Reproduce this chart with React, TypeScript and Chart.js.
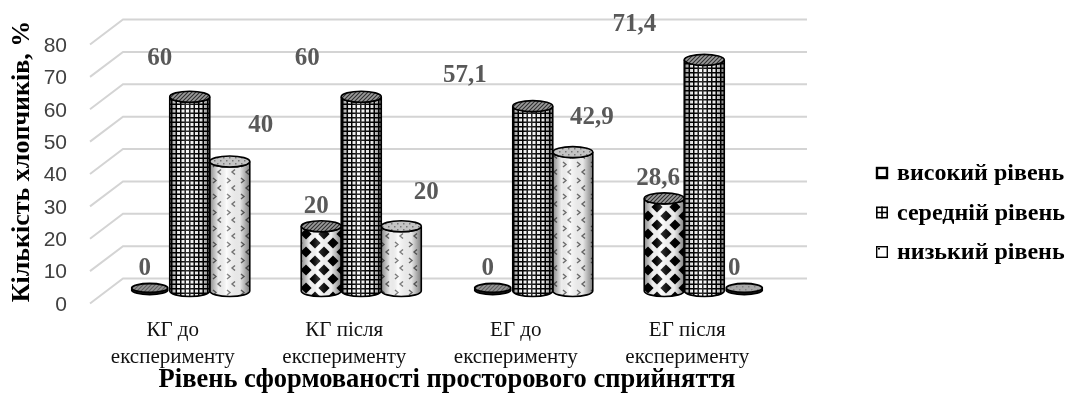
import { useEffect, useRef } from 'react';
import { Chart, registerables } from 'chart.js';

Chart.register(...registerables);

// ---------- data ----------
const categories: string[][] = [
  ['КГ до', 'експерименту'],
  ['КГ після', 'експерименту'],
  ['ЕГ до', 'експерименту'],
  ['ЕГ після', 'експерименту'],
];
const seriesNames = ['високий рівень', 'середній рівень', 'низький рівень'];
const highValues = [0, 20, 0, 28.6];
const midValues = [60, 60, 57.1, 71.4];
const lowValues = [40, 20, 42.9, 0];
const yMin = 0;
const yMax = 80;
const yStep = 10;
const yAxisTitle = 'Кількість хлопчиків, %';
const xAxisTitle = 'Рівень сформованості просторового сприйняття';

// ---------- style (label nudges relative to the bar top, like Excel's 3D layout) ----------
const labelDx = [
  [-5, -5, -5, -6],
  [-30, -54, -68, -70],
  [31, 25, 19, -10],
];
const labelDy = [
  [-22, -20, -22, -20],
  [-38, -38, -31, -35],
  [-36, -34, -35, -22],
];
const SERIF = '"Liberation Serif", "Times New Roman", serif';
const SANS = '"Liberation Sans", Arial, sans-serif';

function makeTile(w: number, h: number, draw: (g: CanvasRenderingContext2D) => void) {
  const c = document.createElement('canvas');
  c.width = w;
  c.height = h;
  const g = c.getContext('2d') as CanvasRenderingContext2D;
  draw(g);
  return c;
}

function diamond(g: CanvasRenderingContext2D, cx: number, cy: number, r: number) {
  g.beginPath();
  g.moveTo(cx, cy - r);
  g.lineTo(cx + r, cy);
  g.lineTo(cx, cy + r);
  g.lineTo(cx - r, cy);
  g.closePath();
  g.fill();
}

function buildPatterns(ctx: CanvasRenderingContext2D) {
  const diamondTile = makeTile(18, 18, (g) => {
    g.fillStyle = '#fff';
    g.fillRect(0, 0, 18, 18);
    g.fillStyle = '#000';
    const r = 5.6;
    diamond(g, 9, 9, r);
    diamond(g, 0, 0, r);
    diamond(g, 18, 0, r);
    diamond(g, 0, 18, r);
    diamond(g, 18, 18, r);
  });
  const gridTile = makeTile(9, 9, (g) => {
    g.fillStyle = '#fff';
    g.fillRect(0, 0, 9, 9);
    g.fillStyle = '#000';
    g.fillRect(0, 0, 9, 1.5);
    g.fillRect(0, 4.5, 9, 1.5);
    g.fillRect(0, 0, 1.5, 9);
    g.fillRect(4.5, 0, 1.5, 9);
  });
  const chevronTile = makeTile(14, 16, (g) => {
    g.fillStyle = '#fbfbfb';
    g.fillRect(0, 0, 14, 16);
    g.strokeStyle = '#6e6e6e';
    g.lineWidth = 1.4;
    g.beginPath();
    g.moveTo(3, 2);
    g.lineTo(6, 4.5);
    g.lineTo(3, 7);
    g.moveTo(11, 9.5);
    g.lineTo(8, 12);
    g.lineTo(11, 14.5);
    g.stroke();
  });
  const hatchTile = makeTile(4, 4, (g) => {
    g.fillStyle = '#9a9a9a';
    g.fillRect(0, 0, 4, 4);
    g.strokeStyle = '#2e2e2e';
    g.lineWidth = 1.1;
    g.beginPath();
    g.moveTo(0, 4);
    g.lineTo(4, 0);
    g.moveTo(-1, 1);
    g.lineTo(1, -1);
    g.moveTo(3, 5);
    g.lineTo(5, 3);
    g.stroke();
  });
  const dotTile = makeTile(6, 6, (g) => {
    g.fillStyle = '#c4c4c4';
    g.fillRect(0, 0, 6, 6);
    g.fillStyle = '#777';
    g.fillRect(1, 1, 1.5, 1.5);
    g.fillRect(4, 4, 1.5, 1.5);
  });
  return {
    body: [
      ctx.createPattern(diamondTile, 'repeat'),
      ctx.createPattern(gridTile, 'repeat'),
      ctx.createPattern(chevronTile, 'repeat'),
    ],
    cap: [
      ctx.createPattern(hatchTile, 'repeat'),
      ctx.createPattern(hatchTile, 'repeat'),
      ctx.createPattern(dotTile, 'repeat'),
    ],
  };
}

function drawCylinder(
  ctx: CanvasRenderingContext2D,
  cx: number,
  top: number,
  bottom: number,
  w: number,
  body: CanvasPattern | null,
  cap: CanvasPattern | null,
) {
  const rx = w / 2;
  const ry = 5.5;
  const l = cx - rx;
  const r = cx + rx;
  ctx.save();
  ctx.beginPath();
  ctx.moveTo(l, top);
  ctx.lineTo(l, bottom);
  ctx.ellipse(cx, bottom, rx, ry, 0, Math.PI, 0, true);
  ctx.lineTo(r, top);
  ctx.ellipse(cx, top, rx, ry, 0, 0, Math.PI, false);
  ctx.closePath();
  ctx.fillStyle = body || '#fff';
  ctx.fill();
  const grad = ctx.createLinearGradient(l, 0, r, 0);
  grad.addColorStop(0, 'rgba(0,0,0,0.45)');
  grad.addColorStop(0.22, 'rgba(0,0,0,0.06)');
  grad.addColorStop(0.42, 'rgba(255,255,255,0.2)');
  grad.addColorStop(0.75, 'rgba(0,0,0,0.08)');
  grad.addColorStop(1, 'rgba(0,0,0,0.5)');
  ctx.fillStyle = grad;
  ctx.fill();
  ctx.strokeStyle = '#000';
  ctx.lineWidth = 1.6;
  ctx.stroke();
  ctx.beginPath();
  ctx.ellipse(cx, top, rx, ry, 0, 0, Math.PI * 2);
  ctx.fillStyle = cap || '#999';
  ctx.fill();
  ctx.stroke();
  ctx.restore();
}

function drawDisk(ctx: CanvasRenderingContext2D, cx: number, base: number, w: number, cap: CanvasPattern | null) {
  const rx = w / 2 - 2;
  const ry = 4.5;
  ctx.save();
  ctx.strokeStyle = '#000';
  ctx.lineWidth = 1.8;
  ctx.beginPath();
  ctx.ellipse(cx, base, rx, ry, 0, 0, Math.PI * 2);
  ctx.fillStyle = '#333';
  ctx.fill();
  ctx.stroke();
  ctx.beginPath();
  ctx.ellipse(cx, base - 2, rx, ry, 0, 0, Math.PI * 2);
  ctx.fillStyle = '#8e8e8e';
  ctx.fill();
  ctx.fillStyle = cap || '#999';
  ctx.globalAlpha = 0.5;
  ctx.fill();
  ctx.globalAlpha = 1;
  ctx.stroke();
  ctx.restore();
}

const fmt = (v: number) => String(v).replace('.', ',');

const cylinderPlugin = {
  id: 'cylinders3d',
  beforeDatasetsDraw(chart: any) {
    const { ctx, chartArea, scales } = chart;
    const ys = scales.y;
    const frontX = chartArea.left - 14;
    const backX = chartArea.left + 19;
    const rightX = chartArea.right + 17;
    ctx.save();
    ctx.strokeStyle = '#d4d4d4';
    ctx.lineWidth = 2;
    for (let v = yMin; v <= yMax; v += yStep) {
      const p = ys.getPixelForValue(v);
      ctx.beginPath();
      ctx.moveTo(frontX, p + 12.5);
      ctx.lineTo(backX, p - 12.5);
      ctx.lineTo(rightX, p - 12.5);
      ctx.stroke();
    }
    ctx.restore();
  },
  afterDatasetsDraw(chart: any) {
    const { ctx } = chart;
    const pats = (chart as any).$pats || ((chart as any).$pats = buildPatterns(ctx));
    const order = [0, 2, 1];
    const n = chart.data.labels.length;
    for (let i = 0; i < n; i++) {
      for (const d of order) {
        const meta = chart.getDatasetMeta(d);
        const el = meta.data[i];
        const { x, y, base, width } = el.getProps(['x', 'y', 'base', 'width'], true);
        const v = chart.data.datasets[d].data[i] as number;
        if (v === 0) drawDisk(ctx, x, base - 1, width, pats.cap[d]);
        else drawCylinder(ctx, x, y, base, width, pats.body[d], pats.cap[d]);
      }
    }
    // value labels
    ctx.save();
    ctx.font = `bold 25px ${SERIF}`;
    ctx.fillStyle = '#595959';
    ctx.textAlign = 'center';
    ctx.textBaseline = 'middle';
    for (let d = 0; d < chart.data.datasets.length; d++) {
      const meta = chart.getDatasetMeta(d);
      meta.data.forEach((el: any, i: number) => {
        const { x, y } = el.getProps(['x', 'y'], true);
        const v = chart.data.datasets[d].data[i] as number;
        ctx.fillText(fmt(v), x + labelDx[d][i], y + labelDy[d][i]);
      });
    }
    ctx.restore();
  },
  afterDraw(chart: any) {
    const { ctx } = chart;
    const lx = 876;
    const y0 = 173;
    const gap = 39.5;
    const s = 12;
    ctx.save();
    seriesNames.forEach((name, k) => {
      const cy = y0 + k * gap;
      const top = cy - s / 2;
      ctx.fillStyle = '#fff';
      ctx.fillRect(lx, top, s, s);
      ctx.strokeStyle = '#000';
      if (k === 0) {
        ctx.lineWidth = 2.4;
        ctx.strokeRect(lx + 1, top + 1, s - 2, s - 2);
        ctx.fillStyle = '#000';
        ctx.fillRect(lx + 1, top + s - 3, s - 2, 2);
      } else if (k === 1) {
        ctx.lineWidth = 1.6;
        ctx.strokeRect(lx + 0.8, top + 0.8, s - 1.6, s - 1.6);
        ctx.beginPath();
        ctx.moveTo(lx + s / 2, top);
        ctx.lineTo(lx + s / 2, top + s);
        ctx.moveTo(lx, top + s / 2);
        ctx.lineTo(lx + s, top + s / 2);
        ctx.stroke();
      } else {
        ctx.lineWidth = 1.4;
        ctx.strokeRect(lx + 0.7, top + 0.7, s - 1.4, s - 1.4);
        ctx.fillStyle = '#000';
        ctx.fillRect(lx + 2, top + 2, 2, 1.5);
      }
      ctx.fillStyle = '#000';
      ctx.font = `bold 24px ${SERIF}`;
      ctx.textAlign = 'left';
      ctx.textBaseline = 'middle';
      ctx.fillText(name, lx + 21, cy + 1);
    });
    ctx.restore();
  },
};

export default function App() {
  const ref = useRef<HTMLCanvasElement>(null);
  useEffect(() => {
    if (!ref.current) return;
    const chart = new Chart(ref.current, {
      type: 'bar',
      data: {
        labels: categories,
        datasets: [
          { label: seriesNames[0], data: highValues, backgroundColor: 'rgba(0,0,0,0)', borderWidth: 0 },
          { label: seriesNames[1], data: midValues, backgroundColor: 'rgba(0,0,0,0)', borderWidth: 0 },
          { label: seriesNames[2], data: lowValues, backgroundColor: 'rgba(0,0,0,0)', borderWidth: 0 },
        ],
      },
      options: {
        animation: false,
        responsive: true,
        maintainAspectRatio: false,
        layout: { padding: { top: 32, right: 275, left: 0, bottom: 0 } },
        datasets: { bar: { categoryPercentage: 0.7, barPercentage: 1 } } as any,
        plugins: { legend: { display: false }, tooltip: { enabled: false } },
        scales: {
          x: {
            grid: { display: false, drawTicks: false },
            border: { display: false },
            ticks: {
              autoSkip: false,
              maxRotation: 0,
              padding: 26,
              labelOffset: -17,
              color: '#111',
              font: { family: SERIF, size: 21, lineHeight: 1.3 },
            },
            title: {
              display: true,
              text: xAxisTitle,
              color: '#000',
              font: { family: SERIF, size: 26.5, weight: 'bold' },
              padding: { top: 4, bottom: 5 },
            },
            afterFit: (s: any) => {
              s.height = 110;
              s.paddingLeft = 0;
              s.paddingRight = 0;
            },
          },
          y: {
            min: yMin,
            max: yMax,
            grid: { display: false, drawTicks: false },
            border: { display: false },
            ticks: {
              stepSize: yStep,
              padding: 37,
              labelOffset: 14,
              color: '#404040',
              font: { family: SANS, size: 21 },
            },
            title: {
              display: true,
              text: yAxisTitle,
              color: '#000',
              font: { family: SERIF, size: 26, weight: 'bold' },
              padding: { top: 7, bottom: 0 },
            },
            afterFit: (s: any) => {
              s.width = 104;
              s.paddingTop = 0;
              s.paddingBottom = 0;
            },
          },
        },
      },
      plugins: [cylinderPlugin],
    });
    return () => chart.destroy();
  }, []);
  return (
    <div style={{ position: 'fixed', left: 0, top: 0, width: 1065, height: 401, background: '#fff' }}>
      <canvas ref={ref} />
    </div>
  );
}
